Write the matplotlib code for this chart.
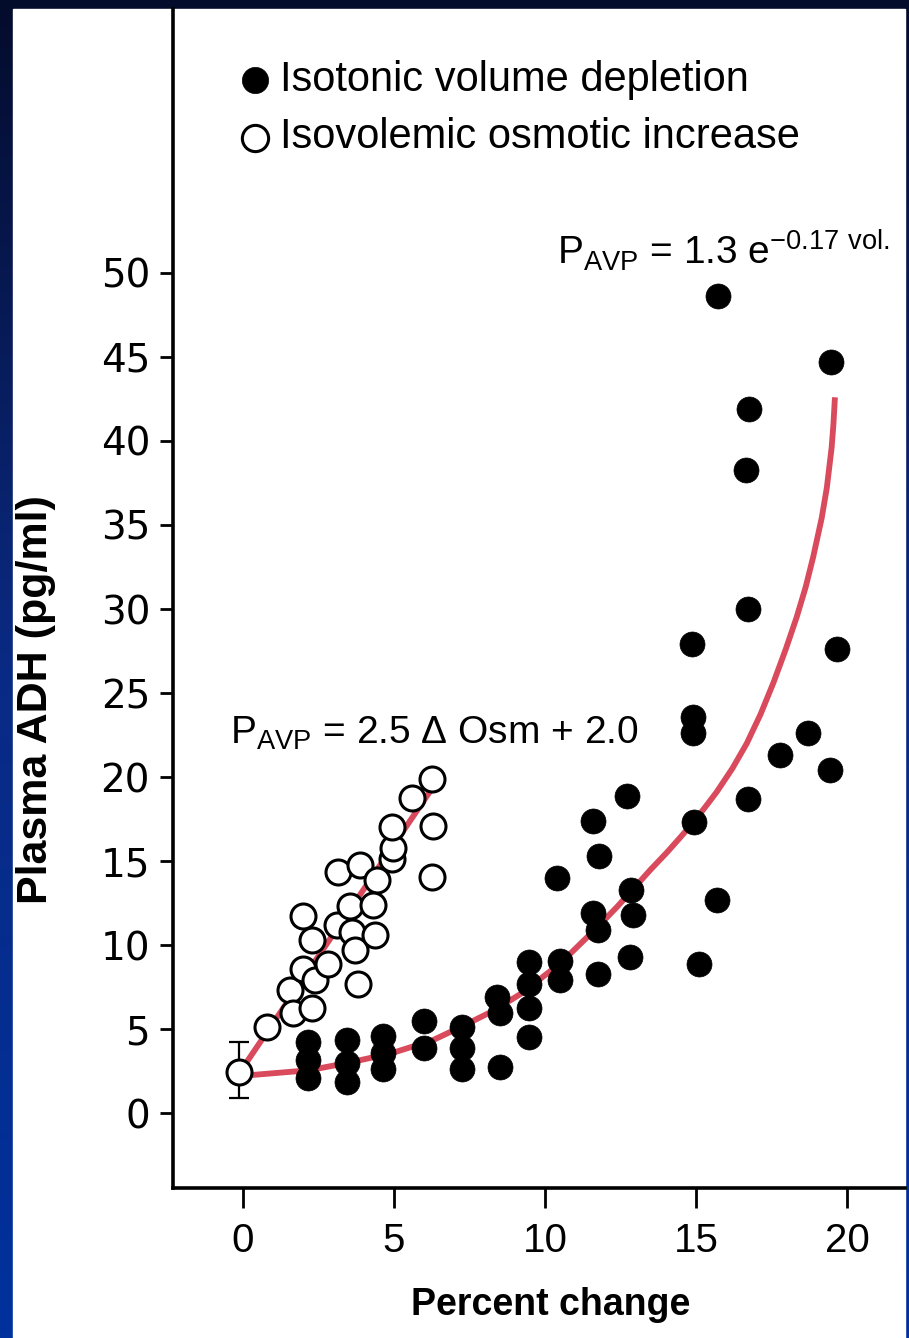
import numpy as np
import matplotlib
matplotlib.use("Agg")
import matplotlib.pyplot as plt
from matplotlib.patches import Rectangle
from matplotlib.colors import LinearSegmentedColormap

plt.rcParams['font.family'] = ['Liberation Sans', 'DejaVu Sans']
plt.rcParams['mathtext.fontset'] = 'custom'
plt.rcParams['mathtext.rm'] = 'Liberation Sans'

# isotonic volume depletion (filled)
vol_x = [2.15, 2.15, 2.15, 3.44, 3.44, 3.44, 4.64, 4.64, 4.64, 6.0, 6.0,
         7.25, 7.25, 7.25, 8.41, 8.51, 8.51, 9.47, 9.47, 9.47, 9.47,
         10.5, 10.5, 10.4, 11.6, 11.8, 11.6, 11.75, 11.75,
         12.7, 12.85, 12.9, 12.8, 14.87, 14.9, 14.9, 14.93,
         15.1, 15.7, 15.73, 16.66, 16.75, 16.72, 16.72, 17.78, 18.7,
         19.44, 19.47, 19.67]
vol_y = [4.2, 3.15, 2.1, 4.35, 3.0, 1.85, 4.6, 3.6, 2.6, 5.5, 3.9,
         5.1, 3.9, 2.6, 6.9, 5.95, 2.75, 9.0, 7.7, 6.25, 4.5,
         9.05, 7.9, 14.0, 17.4, 15.3, 11.9, 10.9, 8.3,
         18.9, 13.3, 11.8, 9.3, 27.9, 23.6, 22.6, 17.3,
         8.9, 12.7, 48.6, 38.3, 41.9, 30.0, 18.7, 21.3, 22.6,
         20.4, 44.7, 27.6]

# isovolemic osmotic increase (open)
osm_x = [0.8, 1.56, 1.66, 2.28, 2.0, 2.38, 2.28, 1.99, 2.8, 3.1, 3.54,
         3.6, 3.7, 3.8, 3.15, 3.87, 4.43, 4.3, 4.37, 4.93, 4.97, 4.93,
         5.6, 6.26, 6.3, 6.26]
osm_y = [5.1, 7.3, 5.95, 6.25, 8.6, 7.9, 10.3, 11.7, 8.9, 11.2, 12.3,
         10.8, 9.7, 7.7, 14.35, 14.75, 13.9, 12.4, 10.6, 15.1, 15.8, 17.0,
         18.75, 19.9, 17.1, 14.05]

# baseline point with error bar
base_x = [-0.13]
base_y = [2.45]
base_lo = [1.55]
base_hi = [1.75]

# fitted curves
exp_x = [0.2, 2.2, 3.5, 4.9, 6.3, 7.3, 8.3, 9.2, 10.5, 11.7, 12.4, 13.0,
         13.5, 14.03, 14.5, 14.91, 15.3, 15.68, 16.2, 16.68, 17.14, 17.56,
         17.97, 18.33, 18.63, 18.88, 19.16, 19.33, 19.49, 19.55, 19.6]
exp_y = [2.25, 2.55, 3.0, 3.55, 4.35, 5.2, 6.1, 7.1, 8.9, 11.0, 12.3, 13.5,
         14.5, 15.5, 16.45, 17.3, 18.2, 19.1, 20.5, 22.0, 23.75, 25.6,
         27.6, 29.5, 31.3, 33.1, 35.4, 37.2, 39.6, 41.0, 42.6]
lin_x = [-0.1, 6.25]
lin_y = [2.45, 19.3]

xticks = [0, 5, 10, 15, 20]
yticks = [0, 5, 10, 15, 20, 25, 30, 35, 40, 45, 50]

W, H = 909, 1338
fig = plt.figure(figsize=(W / 100, H / 100), dpi=100)

# background: dark blue gradient with a white panel
bg = fig.add_axes([0, 0, 1, 1])
bg.set_zorder(-1)
cmap = LinearSegmentedColormap.from_list('bg', ['#00319c', '#0a2a84', '#040c2c'])
grad = np.linspace(0, 1, 256).reshape(-1, 1)
bg.imshow(grad, cmap=cmap, aspect='auto', extent=[0, 1, 0, 1], origin='lower')
bg.add_patch(Rectangle((13 / W, 0), (905 - 13) / W, (H - 9) / H,
                       color='white', zorder=2))
bg.set_xlim(0, 1)
bg.set_ylim(0, 1)
bg.axis('off')

ax = fig.add_axes([173 / W, 150 / H, (905 - 173) / W, (H - 9 - 150) / H])
ax.patch.set_visible(False)

red = '#d94a5c'
ax.plot(exp_x, exp_y, color=red, lw=4.2, zorder=2, solid_capstyle='butt',
        solid_joinstyle='round')
ax.plot(lin_x, lin_y, color=red, lw=4.2, zorder=2, solid_capstyle='butt')

ax.errorbar(base_x, base_y, yerr=[base_lo, base_hi], fmt='none',
            ecolor='black', elinewidth=1.6, capsize=7.5, capthick=1.6, zorder=3)
ax.scatter(base_x, base_y, s=18 ** 2, facecolor='white', edgecolor='black',
           linewidth=2.2, zorder=4)

ax.scatter(osm_x, osm_y, s=18 ** 2, facecolor='white', edgecolor='black',
           linewidth=2.2, zorder=4, label='Isovolemic osmotic increase')
ax.scatter(vol_x, vol_y, s=18 ** 2, facecolor='black', edgecolor='black',
           linewidth=0.5, zorder=5, label='Isotonic volume depletion')

ax.set_xlim(-2.32, 21.92)
ax.set_ylim(-4.46, 65.71)
ax.set_xticks(xticks)
ax.set_yticks(yticks)
ax.spines['top'].set_visible(False)
ax.spines['right'].set_visible(False)
for s in ['left', 'bottom']:
    ax.spines[s].set_linewidth(2.6)
ax.tick_params(axis='x', direction='out', length=14.5, width=2, pad=10,
               labelsize=29)
ax.tick_params(axis='y', direction='out', length=9.5, width=2, pad=7,
               labelsize=28, labelfontfamily='DejaVu Sans')

ax.set_xlabel('Percent change', fontsize=27, fontweight='bold', va='center')
ax.xaxis.set_label_coords((551 - 173) / 732, (1188 - 1305) / 1179)
ax.set_ylabel('Plasma ADH (pg/ml)', fontsize=31, fontweight='bold', va='center')
ax.yaxis.set_label_coords((36 - 173) / 732, (1188 - 700) / 1179)

ax.text(-0.43, 21.96, r'P$_{\rm AVP}$ = 2.5 Δ Osm + 2.0', fontsize=28,
        ha='left', va='baseline')
ax.text(10.4, 50.5, r'P$_{\rm AVP}$ = 1.3 e$^{\mathrm{-0.17\ vol.}}$',
        fontsize=28, ha='left', va='baseline')

handles, labels = ax.get_legend_handles_labels()
fig.legend(handles[::-1], labels[::-1], loc='upper left',
           bbox_to_anchor=(238 / W, 1 - 60 / H), frameon=False, fontsize=30,
           handlelength=0.8, handletextpad=0.22, labelspacing=0.42,
           borderpad=0, borderaxespad=0, scatterpoints=1, markerscale=1.05)

fig.savefig('out.png', dpi=100)
